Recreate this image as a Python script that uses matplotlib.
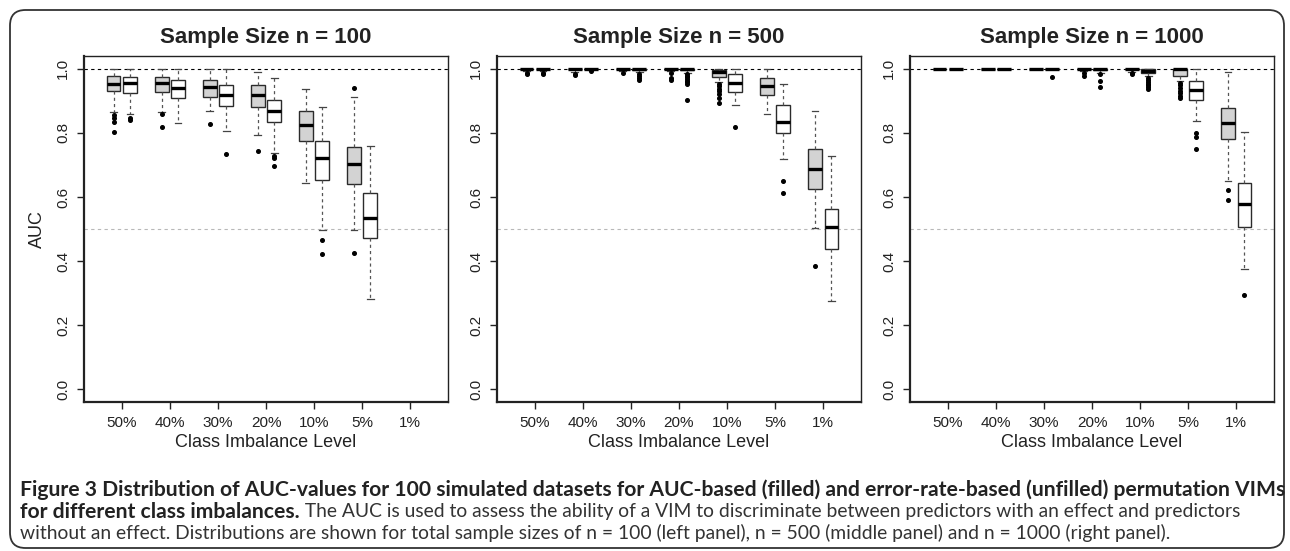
import matplotlib
matplotlib.use('Agg')
import matplotlib.pyplot as plt
from matplotlib.patches import FancyBboxPatch

plt.rcParams['font.family'] = ['Liberation Sans', 'DejaVu Sans']

# ---------------- data ----------------
levels = ['50%', '40%', '30%', '20%', '10%', '5%', '1%']
panel_titles = ['Sample Size n = 100', 'Sample Size n = 500', 'Sample Size n = 1000']
x_label = 'Class Imbalance Level'
y_label = 'AUC'
y_ticks = [0.0, 0.2, 0.4, 0.6, 0.8, 1.0]

# n = 100, AUC-based (filled)
n100_auc_lo  = [0.864, 0.865, 0.869, 0.792, 0.644, 0.497, None]
n100_auc_q1  = [0.931, 0.929, 0.913, 0.880, 0.776, 0.639, None]
n100_auc_med = [0.952, 0.956, 0.942, 0.917, 0.826, 0.703, None]
n100_auc_q3  = [0.977, 0.973, 0.966, 0.950, 0.869, 0.755, None]
n100_auc_hi  = [0.998, 0.998, 0.998, 0.991, 0.938, 0.911, None]
n100_auc_out = [[0.855, 0.845, 0.835, 0.802], [0.860, 0.817], [0.828], [0.743], [], [0.940, 0.425], []]
# n = 100, error-rate-based (unfilled)
n100_err_lo  = [0.859, 0.832, 0.805, 0.737, 0.498, 0.280, None]
n100_err_q1  = [0.926, 0.908, 0.885, 0.833, 0.654, 0.472, None]
n100_err_med = [0.956, 0.939, 0.917, 0.867, 0.723, 0.534, None]
n100_err_q3  = [0.975, 0.966, 0.949, 0.904, 0.776, 0.613, None]
n100_err_hi  = [0.998, 0.998, 0.998, 0.970, 0.880, 0.760, None]
n100_err_out = [[0.846, 0.840], [], [0.734], [0.727, 0.722, 0.698], [0.467, 0.423], [], []]

# n = 500, AUC-based (filled)
n500_auc_lo  = [0.992, 0.990, 0.993, 0.992, 0.958, 0.859, 0.504]
n500_auc_q1  = [0.998, 0.998, 0.998, 0.998, 0.976, 0.919, 0.624]
n500_auc_med = [1.000, 1.000, 1.000, 1.000, 0.991, 0.947, 0.688]
n500_auc_q3  = [1.000, 1.000, 1.000, 1.000, 0.996, 0.971, 0.749]
n500_auc_hi  = [1.000, 1.000, 1.000, 1.000, 1.000, 1.000, 0.869]
n500_auc_out = [[0.988, 0.985], [0.985, 0.982], [0.988], [0.986, 0.972, 0.966],
                [0.952, 0.945, 0.938, 0.930, 0.920, 0.908, 0.892], [], [0.386]]
# n = 500, error-rate-based (unfilled)
n500_err_lo  = [0.992, 0.995, 0.990, 0.988, 0.887, 0.717, 0.274]
n500_err_q1  = [0.998, 0.998, 0.997, 0.996, 0.929, 0.800, 0.437]
n500_err_med = [1.000, 1.000, 1.000, 1.000, 0.956, 0.833, 0.505]
n500_err_q3  = [1.000, 1.000, 1.000, 1.000, 0.983, 0.886, 0.562]
n500_err_hi  = [1.000, 1.000, 1.000, 1.000, 1.000, 0.954, 0.728]
n500_err_out = [[0.988, 0.985], [0.992], [0.985, 0.978, 0.972, 0.965],
                [0.983, 0.978, 0.973, 0.968, 0.963, 0.958, 0.953, 0.902], [0.817], [0.651, 0.613], []]

# n = 1000, AUC-based (filled)
n1000_auc_lo  = [1.000, 1.000, 1.000, 0.993, 0.990, 0.963, 0.651]
n1000_auc_q1  = [1.000, 1.000, 1.000, 0.998, 0.998, 0.979, 0.782]
n1000_auc_med = [1.000, 1.000, 1.000, 1.000, 1.000, 0.998, 0.832]
n1000_auc_q3  = [1.000, 1.000, 1.000, 1.000, 1.000, 1.000, 0.878]
n1000_auc_hi  = [1.000, 1.000, 1.000, 1.000, 1.000, 1.000, 0.989]
n1000_auc_out = [[], [], [], [0.988, 0.977], [0.986, 0.983],
                 [0.955, 0.948, 0.940, 0.932, 0.924, 0.916, 0.909], [0.622, 0.592]]
# n = 1000, error-rate-based (unfilled)
n1000_err_lo  = [1.000, 1.000, 1.000, 0.988, 0.978, 0.838, 0.376]
n1000_err_q1  = [1.000, 1.000, 1.000, 0.997, 0.987, 0.903, 0.506]
n1000_err_med = [1.000, 1.000, 1.000, 1.000, 0.994, 0.935, 0.578]
n1000_err_q3  = [1.000, 1.000, 1.000, 1.000, 1.000, 0.963, 0.643]
n1000_err_hi  = [1.000, 1.000, 1.000, 1.000, 1.000, 1.000, 0.802]
n1000_err_out = [[], [], [0.975], [0.983, 0.963, 0.944],
                 [0.972, 0.966, 0.960, 0.954, 0.948, 0.942, 0.937], [0.799, 0.786, 0.750], [0.293]]

caption_bold1 = ('Figure 3 Distribution of AUC-values for 100 simulated datasets for AUC-based (filled) '
                 'and error-rate-based (unfilled) permutation VIMs')
caption_bold2 = 'for different class imbalances.'
caption_reg2 = (' The AUC is used to assess the ability of a VIM to discriminate between predictors '
                'with an effect and predictors')
caption_reg3 = ('without an effect. Distributions are shown for total sample sizes of n = 100 (left panel), '
                'n = 500 (middle panel) and n = 1000 (right panel).')

panels = [
    ((n100_auc_lo, n100_auc_q1, n100_auc_med, n100_auc_q3, n100_auc_hi, n100_auc_out),
     (n100_err_lo, n100_err_q1, n100_err_med, n100_err_q3, n100_err_hi, n100_err_out)),
    ((n500_auc_lo, n500_auc_q1, n500_auc_med, n500_auc_q3, n500_auc_hi, n500_auc_out),
     (n500_err_lo, n500_err_q1, n500_err_med, n500_err_q3, n500_err_hi, n500_err_out)),
    ((n1000_auc_lo, n1000_auc_q1, n1000_auc_med, n1000_auc_q3, n1000_auc_hi, n1000_auc_out),
     (n1000_err_lo, n1000_err_q1, n1000_err_med, n1000_err_q3, n1000_err_hi, n1000_err_out)),
]

# ---------------- figure ----------------
W, H = 1290, 551
fig = plt.figure(figsize=(W / 100, H / 100), dpi=100)

def px_rect(x0, y0, x1, y1):
    return [x0 / W, 1 - y1 / H, (x1 - x0) / W, (y1 - y0) / H]

# outer rounded border
border = FancyBboxPatch((10 / W, 1 - 548 / H), (1284 - 10) / W, (548 - 10) / H,
                        boxstyle='round,pad=0,rounding_size=0.012', transform=fig.transFigure,
                        facecolor='none', edgecolor='#333333', linewidth=1.3, mutation_aspect=W / H)
fig.patches.append(border)

lefts = [84, 497, 910]
ax_w = 364
offset = 0.17
bw = 0.28
edge = '#2b2b2b'

for i, (left, (auc, err)) in enumerate(zip(lefts, panels)):
    ax = fig.add_axes(px_rect(left, 56, left + ax_w, 402))
    ax.set_xlim(0.21, 7.79)
    ax.set_ylim(-0.04, 1.04)
    ax.axhline(1.0, color='black', linestyle=(0, (3, 3)), linewidth=0.8, zorder=1)
    ax.axhline(0.5, color='#b8b8b8', linestyle=(0, (3, 3)), linewidth=0.8, zorder=1)
    for series, shift, fill in ((auc, -offset, '#d3d3d3'), (err, offset, 'white')):
        lo, q1, med, q3, hi, out = series
        stats, pos = [], []
        for k in range(len(levels)):
            if med[k] is None:
                continue
            stats.append(dict(whislo=lo[k], q1=q1[k], med=med[k], q3=q3[k], whishi=hi[k], fliers=out[k]))
            pos.append(k + 1 + shift)
        if not stats:
            continue
        ax.bxp(stats, positions=pos, widths=bw, patch_artist=True, manage_ticks=False,
               boxprops=dict(facecolor=fill, edgecolor=edge, linewidth=1.0),
               medianprops=dict(color='black', linewidth=2.4, solid_capstyle='butt'),
               whiskerprops=dict(color='#555555', linestyle=(0, (2.5, 2.5)), linewidth=0.9),
               capprops=dict(color='#444444', linewidth=0.9),
               flierprops=dict(marker='o', markersize=2.6, markerfacecolor='black',
                               markeredgecolor='black', linestyle='none'),
               zorder=3)
    ax.set_xticks(range(1, len(levels) + 1))
    ax.set_xticklabels(levels, fontsize=11)
    ax.set_yticks(y_ticks)
    ax.set_yticklabels(['%.1f' % v for v in y_ticks], fontsize=11, rotation=90, va='center')
    ax.tick_params(axis='both', direction='out', length=5, width=1.0, color='#222222',
                   labelcolor='#222222')
    ax.tick_params(axis='x', pad=5)
    ax.tick_params(axis='y', pad=5)
    for s in ('left', 'bottom'):
        ax.spines[s].set_linewidth(1.6)
        ax.spines[s].set_color('#222222')
    for s in ('top', 'right'):
        ax.spines[s].set_linewidth(1.0)
        ax.spines[s].set_color('#222222')
    ax.set_xlabel(x_label, fontsize=13, color='#222222', labelpad=3)
    if i == 0:
        ax.set_ylabel(y_label, fontsize=13, color='#222222', labelpad=7)
    fig.text((left + ax_w / 2) / W, 1 - 43 / H, panel_titles[i], fontsize=16, fontweight='bold',
             ha='center', va='baseline', color='#222222')

# ---------------- caption ----------------
cap_font = ['Lato', 'DejaVu Sans']
renderer = fig.canvas.get_renderer()
x0 = 20
t1 = fig.text(x0 / W, 1 - 490 / H, caption_bold1, family=cap_font, fontweight='bold',
              fontsize=12, ha='left', va='center', color='#222222')
fs_b = 12 * (1283 - x0) / t1.get_window_extent(renderer).width
t1.set_fontsize(fs_b)
t2 = fig.text(x0 / W, 1 - 512 / H, caption_bold2, family=cap_font, fontweight='bold',
              fontsize=fs_b, ha='left', va='center', color='#222222')
w2 = t2.get_window_extent(renderer).width
t3 = fig.text(x0 / W, 1 - 533 / H, caption_reg3, family=cap_font, fontweight='normal',
              fontsize=12, ha='left', va='center', color='#333333')
f3 = (1137 - x0) / t3.get_window_extent(renderer).width
t2r = fig.text((x0 + w2) / W, 1 - 512 / H, caption_reg2, family=cap_font, fontweight='normal',
               fontsize=12, ha='left', va='center', color='#333333')
f2 = (1262 - x0 - w2) / t2r.get_window_extent(renderer).width
fs_r = 12 * (f3 + f2) / 2
t3.set_fontsize(fs_r)
t2r.set_fontsize(fs_r)

fig.savefig('out.png', dpi=100)
